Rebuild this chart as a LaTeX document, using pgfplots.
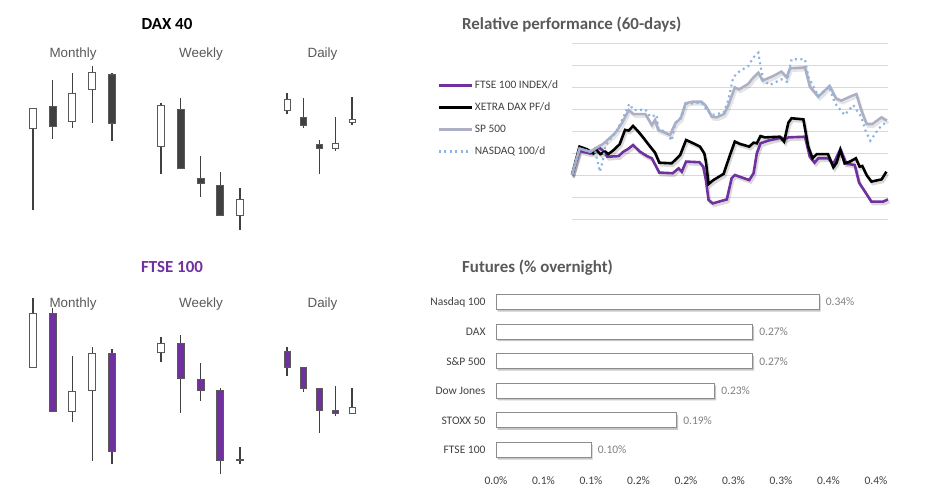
\documentclass[border=0pt]{standalone}
\usepackage{fontspec}
\setmainfont{Carlito}
\newfontfamily\arialf{Liberation Sans}
\usepackage{pgfplots}
\pgfplotsset{compat=1.18}
\usepackage{pgfplotstable}

\definecolor{ftsepurple}{HTML}{7030A0}
\definecolor{titlegray}{HTML}{595959}
\definecolor{wick}{HTML}{404040}
\definecolor{edge}{HTML}{595959}
\definecolor{daxdark}{HTML}{404040}
\definecolor{spgray}{HTML}{ADB0C4}
\definecolor{ndxblue}{HTML}{8DB3E2}
\definecolor{gridgray}{HTML}{D9D9D9}
\definecolor{textgray}{HTML}{404040}
\definecolor{labelgray}{HTML}{808080}
\definecolor{baredge}{HTML}{8C8C8C}

% candles: position, open, high, low, close
\pgfplotstableread{
x o h l c
1 371 392 290 392
2 394 420 361 373
3 378 427 372 407
4 410 434 377 428
5 426 427 359 376
}\daxM
\pgfplotstableread{
x o h l c
1 353 397 326 395
2 391 402 331 331
3 322 344 303 316
4 315 328 284 284
5 284 312 270 301
}\daxW
\pgfplotstableread{
x o h l c
1 389 407 386 401
2 383 402 372 374
3 356 360 326 351
4 351 383 349 357
5 377 403 375 381
}\daxD
\pgfplotstableread{
x o h l c
1 132 202 132 187
2 187 192 88 88
3 88 144 78 109
4 109 153 39 147
5 147 151 36 48
}\ftseM
\pgfplotstableread{
x o h l c
1 147 163 138 157
2 157 165 87 121
3 121 137 99 109
4 110 112 26 39
5 39 53 36 41
}\ftseW
\pgfplotstableread{
x o h l c
1 149 153 124 132
2 133 133 108 111
3 112 112 67 89
4 90 114 84 86
5 86 112 86 93
}\ftseD

% relative performance, 60 days
\pgfplotstableread{
i v
0 2.0
1.4 3.10
3.4 2.98
4.3 3.20
5.2 3.22
5.8 3.10
6.6 2.83
8.7 2.86
9.6 3.06
10.4 3.17
11.4 3.36
12.7 3.06
14.0 2.86
14.9 2.76
16.3 2.11
18.8 2.08
19.9 2.30
20.5 2.15
21.3 2.61
23.8 2.58
24.5 2.38
25.0 1.77
25.5 0.86
26.3 0.71
28.9 0.89
29.8 1.85
30.4 2.00
33.1 1.77
33.9 2.08
34.5 2.98
35.2 3.44
36.6 3.56
39.1 3.70
39.7 3.62
40.4 3.71
43.5 3.74
44.4 2.83
45.3 2.56
46.0 2.76
47.8 2.76
48.8 2.50
50.1 3.17
51.2 2.53
52.8 2.45
53.6 1.65
54.5 1.32
55.9 0.79
58.1 0.79
59.0 0.89
}\ftseline
\pgfplotstableread{
i v
0 2.0
1.4 3.29
2.8 3.17
4.0 2.98
4.7 3.10
5.3 2.95
6.2 3.06
6.8 2.95
7.8 3.14
8.9 3.40
9.9 4.05
10.6 4.02
11.4 4.23
12.4 3.97
13.4 3.67
14.6 3.29
15.5 3.02
16.3 2.56
18.6 2.53
19.4 2.71
20.2 2.91
21.3 3.59
22.4 3.47
23.9 3.29
24.7 2.98
25.0 2.60
25.5 1.59
26.4 1.77
28.3 2.05
29.5 2.91
30.4 3.52
31.4 3.41
33.1 3.29
33.9 3.47
34.5 3.44
35.2 3.77
36.0 3.71
38.8 3.74
39.6 3.52
40.4 4.38
41.0 4.58
43.2 4.53
44.1 3.29
44.9 2.76
45.7 2.95
47.8 2.95
48.8 2.35
49.4 2.56
50.1 3.14
50.9 2.53
51.9 2.61
53.0 2.76
53.7 2.38
54.2 2.41
55.0 2.00
55.9 1.70
57.8 1.80
58.7 2.15
}\daxline
\pgfplotstableread{
i v
0 2.0
1.4 3.20
3.4 3.06
4.7 3.26
5.8 3.41
7.0 3.67
8.1 3.92
9.3 4.35
10.6 4.95
11.5 4.77
13.7 4.77
14.9 4.27
15.5 4.50
16.1 4.05
17.4 3.92
18.3 3.82
19.3 4.35
20.3 4.58
21.2 5.26
22.5 5.33
24.2 5.33
25.0 5.14
26.1 4.65
27.0 4.62
28.4 4.77
29.2 5.18
30.4 5.98
31.2 5.89
32.9 6.14
33.9 6.44
34.8 6.65
35.6 6.29
37.6 6.50
39.1 6.70
40.1 6.44
40.7 6.85
43.5 6.89
44.4 6.02
46.0 5.56
48.1 6.05
49.3 5.48
50.3 5.38
51.9 5.56
53.1 5.68
54.0 4.95
55.0 4.32
56.1 4.32
57.8 4.62
58.8 4.47
}\spxline
\pgfplotstableread{
i v
0 2.0
1.4 3.20
3.4 3.06
4.3 3.10
4.8 2.60
5.2 2.15
5.8 2.70
6.2 3.30
7.0 3.59
8.3 3.97
9.5 4.58
10.7 5.23
11.5 4.95
13.7 4.98
14.6 4.65
15.8 4.73
16.1 4.12
17.7 3.92
18.6 3.56
19.3 4.38
20.5 4.65
21.2 5.23
24.2 5.29
25.2 4.95
26.1 4.73
28.3 4.83
29.2 5.41
30.1 6.44
31.2 6.70
32.9 6.95
33.9 7.35
34.8 7.56
35.1 7.08
35.7 6.32
36.9 6.09
39.1 6.35
40.1 6.24
41.0 7.26
43.5 7.26
44.1 6.47
46.0 5.59
48.0 6.02
49.1 5.26
50.9 4.73
52.5 5.18
54.0 4.65
54.8 4.02
55.7 3.56
57.3 4.12
58.7 4.42
}\ndxline

% futures, % overnight
\pgfplotstableread{
k v
0 0.10
1 0.19
2 0.23
3 0.27
4 0.27
5 0.34
}\futures

\pgfplotsset{
  candleaxis/.style={scale only axis, hide axis, clip=false,
    xmin=0.5, xmax=5.5, anchor=south west},
}

% #1 table, #2 body width (pt), #3 dark body colour
\newcommand{\candles}[3]{%
  \addplot[draw=none, mark=none, error bars/.cd, y dir=both, y explicit,
    error mark=none, error bar style={draw=wick, line width=1.2pt}]
    table[x=x, y expr={(\thisrow{h}+\thisrow{l})/2},
      y error expr={(\thisrow{h}-\thisrow{l})/2}] {#1};
  \addplot[draw=none, mark=none, error bars/.cd, y dir=both, y explicit,
    error mark=none, error bar style={draw=edge, line width=#2pt}]
    table[x=x, y expr={(\thisrow{o}+\thisrow{c})/2},
      y error expr={abs(\thisrow{c}-\thisrow{o})/2}] {#1};
  \addplot[draw=none, mark=none, error bars/.cd, y dir=both, y explicit,
    error mark=none, error bar style={draw=white, line width={(#2-2)*1pt}}]
    table[x=x, y expr={(\thisrow{o}+\thisrow{c})/2},
      y error expr={(\thisrow{c}>\thisrow{o})*max(0,abs(\thisrow{c}-\thisrow{o})/2-1)}] {#1};
  \addplot[draw=none, mark=none, error bars/.cd, y dir=both, y explicit,
    error mark=none, error bar style={draw=#3, line width={(#2-2)*1pt}}]
    table[x=x, y expr={(\thisrow{o}+\thisrow{c})/2},
      y error expr={(\thisrow{c}<\thisrow{o})*max(0,abs(\thisrow{c}-\thisrow{o})/2-1)}] {#1};
}

\begin{document}
\begin{tikzpicture}
\path[use as bounding box] (0,0) rectangle (931pt,-501pt);

% ---- titles
\node[anchor=base, font=\bfseries\fontsize{16.9}{20}\selectfont] at (167pt,-29.3pt) {DAX 40};
\node[anchor=base, font=\bfseries\fontsize{16.9}{20}\selectfont, text=ftsepurple] at (172pt,-272pt) {FTSE 100};
\node[anchor=base west, font=\bfseries\fontsize{16.9}{20}\selectfont, text=titlegray, inner sep=0pt] at (462pt,-29.3pt) {Relative performance (60-days)};
\node[anchor=base west, font=\bfseries\fontsize{16.9}{20}\selectfont, text=titlegray, inner sep=0pt] at (462pt,-272pt) {Futures (\% overnight)};

\foreach \yy in {57.3,307.3}{
  \node[anchor=base, font=\arialf\fontsize{13.4}{16}\selectfont, text=titlegray] at (73pt,-\yy pt) {Monthly};
  \node[anchor=base, font=\arialf\fontsize{13.4}{16}\selectfont, text=titlegray] at (201pt,-\yy pt) {Weekly};
  \node[anchor=base, font=\arialf\fontsize{13.4}{16}\selectfont, text=titlegray] at (322.5pt,-\yy pt) {Daily};
}

% ---- DAX candles
\begin{axis}[candleaxis, at={(23.125pt,-240pt)}, width=98.75pt, height=180pt, ymin=260, ymax=440]
\candles{\daxM}{8}{daxdark}
\end{axis}
\begin{axis}[candleaxis, at={(151.125pt,-240pt)}, width=98.75pt, height=180pt, ymin=260, ymax=440]
\candles{\daxW}{8}{daxdark}
\end{axis}
\begin{axis}[candleaxis, at={(278.875pt,-240pt)}, width=81.25pt, height=180pt, ymin=260, ymax=440]
\candles{\daxD}{7}{daxdark}
\end{axis}

% ---- FTSE candles
\begin{axis}[candleaxis, at={(23.125pt,-480pt)}, width=98.75pt, height=200pt, ymin=20, ymax=220]
\candles{\ftseM}{8}{ftsepurple}
\end{axis}
\begin{axis}[candleaxis, at={(151.125pt,-480pt)}, width=98.75pt, height=200pt, ymin=20, ymax=220]
\candles{\ftseW}{8}{ftsepurple}
\end{axis}
\begin{axis}[candleaxis, at={(278.875pt,-480pt)}, width=81.25pt, height=200pt, ymin=20, ymax=220]
\candles{\ftseD}{7}{ftsepurple}
\end{axis}

% ---- relative performance
\begin{axis}[at={(572pt,-219pt)}, anchor=south west, scale only axis,
  width=316pt, height=176pt, xmin=0, xmax=59, ymin=0, ymax=8, clip=false,
  xtick=\empty, ytick={0,1,...,8}, yticklabels={,,,,,,,,}, ymajorgrids,
  grid style={gridgray, line width=0.9pt},
  axis line style={draw=none}, major tick length=0pt,
  legend style={at={(-0.427,0.571)}, anchor=west, draw=none, fill=none,
    font=\fontsize{11.4}{13}\selectfont, text=textgray, row sep=8pt,
    inner sep=0pt, nodes={inner sep=2pt, text height=8pt, text depth=2pt}},
  legend cell align=left,
  legend image code/.code={\draw[#1] (0pt,0pt) -- (33pt,0pt);},
]
\addplot[black, opacity=0.15, line width=2.6pt, xshift=1.5pt, yshift=-2.5pt, forget plot] table[x=i,y=v] {\ftseline};
\addplot[black, opacity=0.15, line width=2.6pt, xshift=1.5pt, yshift=-2.5pt, forget plot] table[x=i,y=v] {\daxline};
\addplot[black, opacity=0.10, line width=2.6pt, xshift=1.5pt, yshift=-2.5pt, forget plot] table[x=i,y=v] {\spxline};
\addplot[ftsepurple, line width=2.6pt] table[x=i,y=v] {\ftseline};
\addlegendentry{FTSE 100 INDEX/d}
\addplot[black, line width=2.6pt] table[x=i,y=v] {\daxline};
\addlegendentry{XETRA DAX PF/d}
\addplot[spgray, line width=2.6pt] table[x=i,y=v] {\spxline};
\addlegendentry{SP 500}
\addplot[ndxblue, line width=2.2pt, dash pattern=on 2pt off 3.5pt] table[x=i,y=v] {\ndxline};
\addlegendentry{NASDAQ 100/d}
\end{axis}

% ---- futures
\begin{axis}[at={(496pt,-464.8pt)}, anchor=south west, scale only axis,
  width=380pt, height=177.6pt, xmin=0, xmax=0.4, ymin=-0.5, ymax=5.5,
  xbar, bar width=15pt, clip=false,
  axis line style={draw=none}, major tick length=0pt,
  ytick={0,1,2,3,4,5},
  yticklabels={FTSE 100,STOXX 50,Dow Jones,S\&P 500,DAX,Nasdaq 100},
  xtick={0,0.05,0.1,0.15,0.2,0.25,0.3,0.35,0.4},
  xticklabels={0.0\%,0.1\%,0.1\%,0.2\%,0.2\%,0.3\%,0.3\%,0.4\%,0.4\%},
  ticklabel style={font=\fontsize{11.5}{13}\selectfont, text=textgray},
  xticklabel style={yshift=-8pt},
  yticklabel style={xshift=-7pt},
]
\addplot[fill=black!22, draw=none, bar shift=0pt, xshift=1.5pt, yshift=-2pt, forget plot]
  table[x=v,y=k] {\futures};
\addplot[fill=white, draw=baredge, line width=1pt, bar shift=0pt,
  point meta=x,
  nodes near coords={\pgfmathprintnumber[fixed,zerofill,precision=2,assume math mode=true]{\pgfplotspointmeta}\%},
  every node near coord/.append style={font=\fontsize{11.5}{13}\selectfont, text=labelgray, xshift=3pt}]
  table[x=v,y=k] {\futures};
\end{axis}
\end{tikzpicture}
\end{document}
